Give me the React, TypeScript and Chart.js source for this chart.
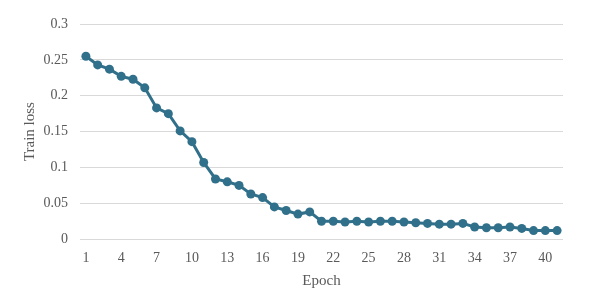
import React, { useEffect, useRef } from "react";
import { Chart, registerables } from "chart.js";

Chart.register(...registerables);

const epochs: string[] = Array.from({ length: 41 }, (_, i) => String(i + 1));
const trainLoss: number[] = [
  0.255, 0.243, 0.237, 0.227, 0.223, 0.211, 0.183, 0.175, 0.151, 0.136,
  0.107, 0.084, 0.080, 0.075, 0.063, 0.058, 0.045, 0.040, 0.035, 0.038,
  0.025, 0.025, 0.024, 0.025, 0.024, 0.025, 0.025, 0.024, 0.023, 0.022,
  0.021, 0.021, 0.022, 0.017, 0.016, 0.016, 0.017, 0.015, 0.012, 0.012,
  0.012,
];
const yTicks: number[] = [0, 0.05, 0.1, 0.15, 0.2, 0.25, 0.3];

const FONT = "'Liberation Serif', 'Times New Roman', serif";

export default function App() {
  const ref = useRef<HTMLCanvasElement | null>(null);
  useEffect(() => {
    document.body.style.margin = "0";
    if (!ref.current) return;
    const chart = new Chart(ref.current, {
      type: "line",
      data: {
        labels: epochs,
        datasets: [
          {
            label: "Train loss",
            data: trainLoss,
            borderColor: "#31708A",
            backgroundColor: "#31708A",
            borderWidth: 3,
            pointRadius: 4.5,
            pointBackgroundColor: "#31708A",
            pointBorderColor: "#31708A",
            pointBorderWidth: 0,
            tension: 0,
          },
        ],
      },
      options: {
        responsive: false,
        animation: false,
        layout: { padding: { top: 24, right: 51, left: 21.5, bottom: 11 } },
        plugins: { legend: { display: false }, tooltip: { enabled: false } },
        scales: {
          x: {
            offset: true,
            grid: { display: false, drawTicks: false },
            border: { display: false },
            ticks: {
              autoSkip: false,
              maxRotation: 0,
              color: "#595959",
              font: { family: FONT, size: 14 },
              padding: 11,
              callback: (_v: any, i: number) => (i % 3 === 0 ? epochs[i] : ""),
            },
            title: {
              display: true,
              text: "Epoch",
              color: "#595959",
              font: { family: FONT, size: 15 },
              padding: { top: -6, bottom: 0 },
            },
          },
          y: {
            min: 0,
            max: 0.3,
            afterBuildTicks: (axis: any) => {
              axis.ticks = yTicks.map((v) => ({ value: v }));
            },
            grid: { color: "#D9D9D9", lineWidth: 1, drawTicks: false },
            border: { display: false },
            ticks: {
              color: "#595959",
              font: { family: FONT, size: 14 },
              padding: 12,
              callback: (v: any) => String(Number(v)),
            },
            title: {
              display: true,
              text: "Train loss",
              color: "#595959",
              font: { family: FONT, size: 15 },
              padding: { top: 0, bottom: -8 },
            },
          },
        },
      },
    });
    return () => chart.destroy();
  }, []);
  return (
    <div style={{ width: 614, height: 301, background: "#fff" }}>
      <canvas ref={ref} width={614} height={301} />
    </div>
  );
}
